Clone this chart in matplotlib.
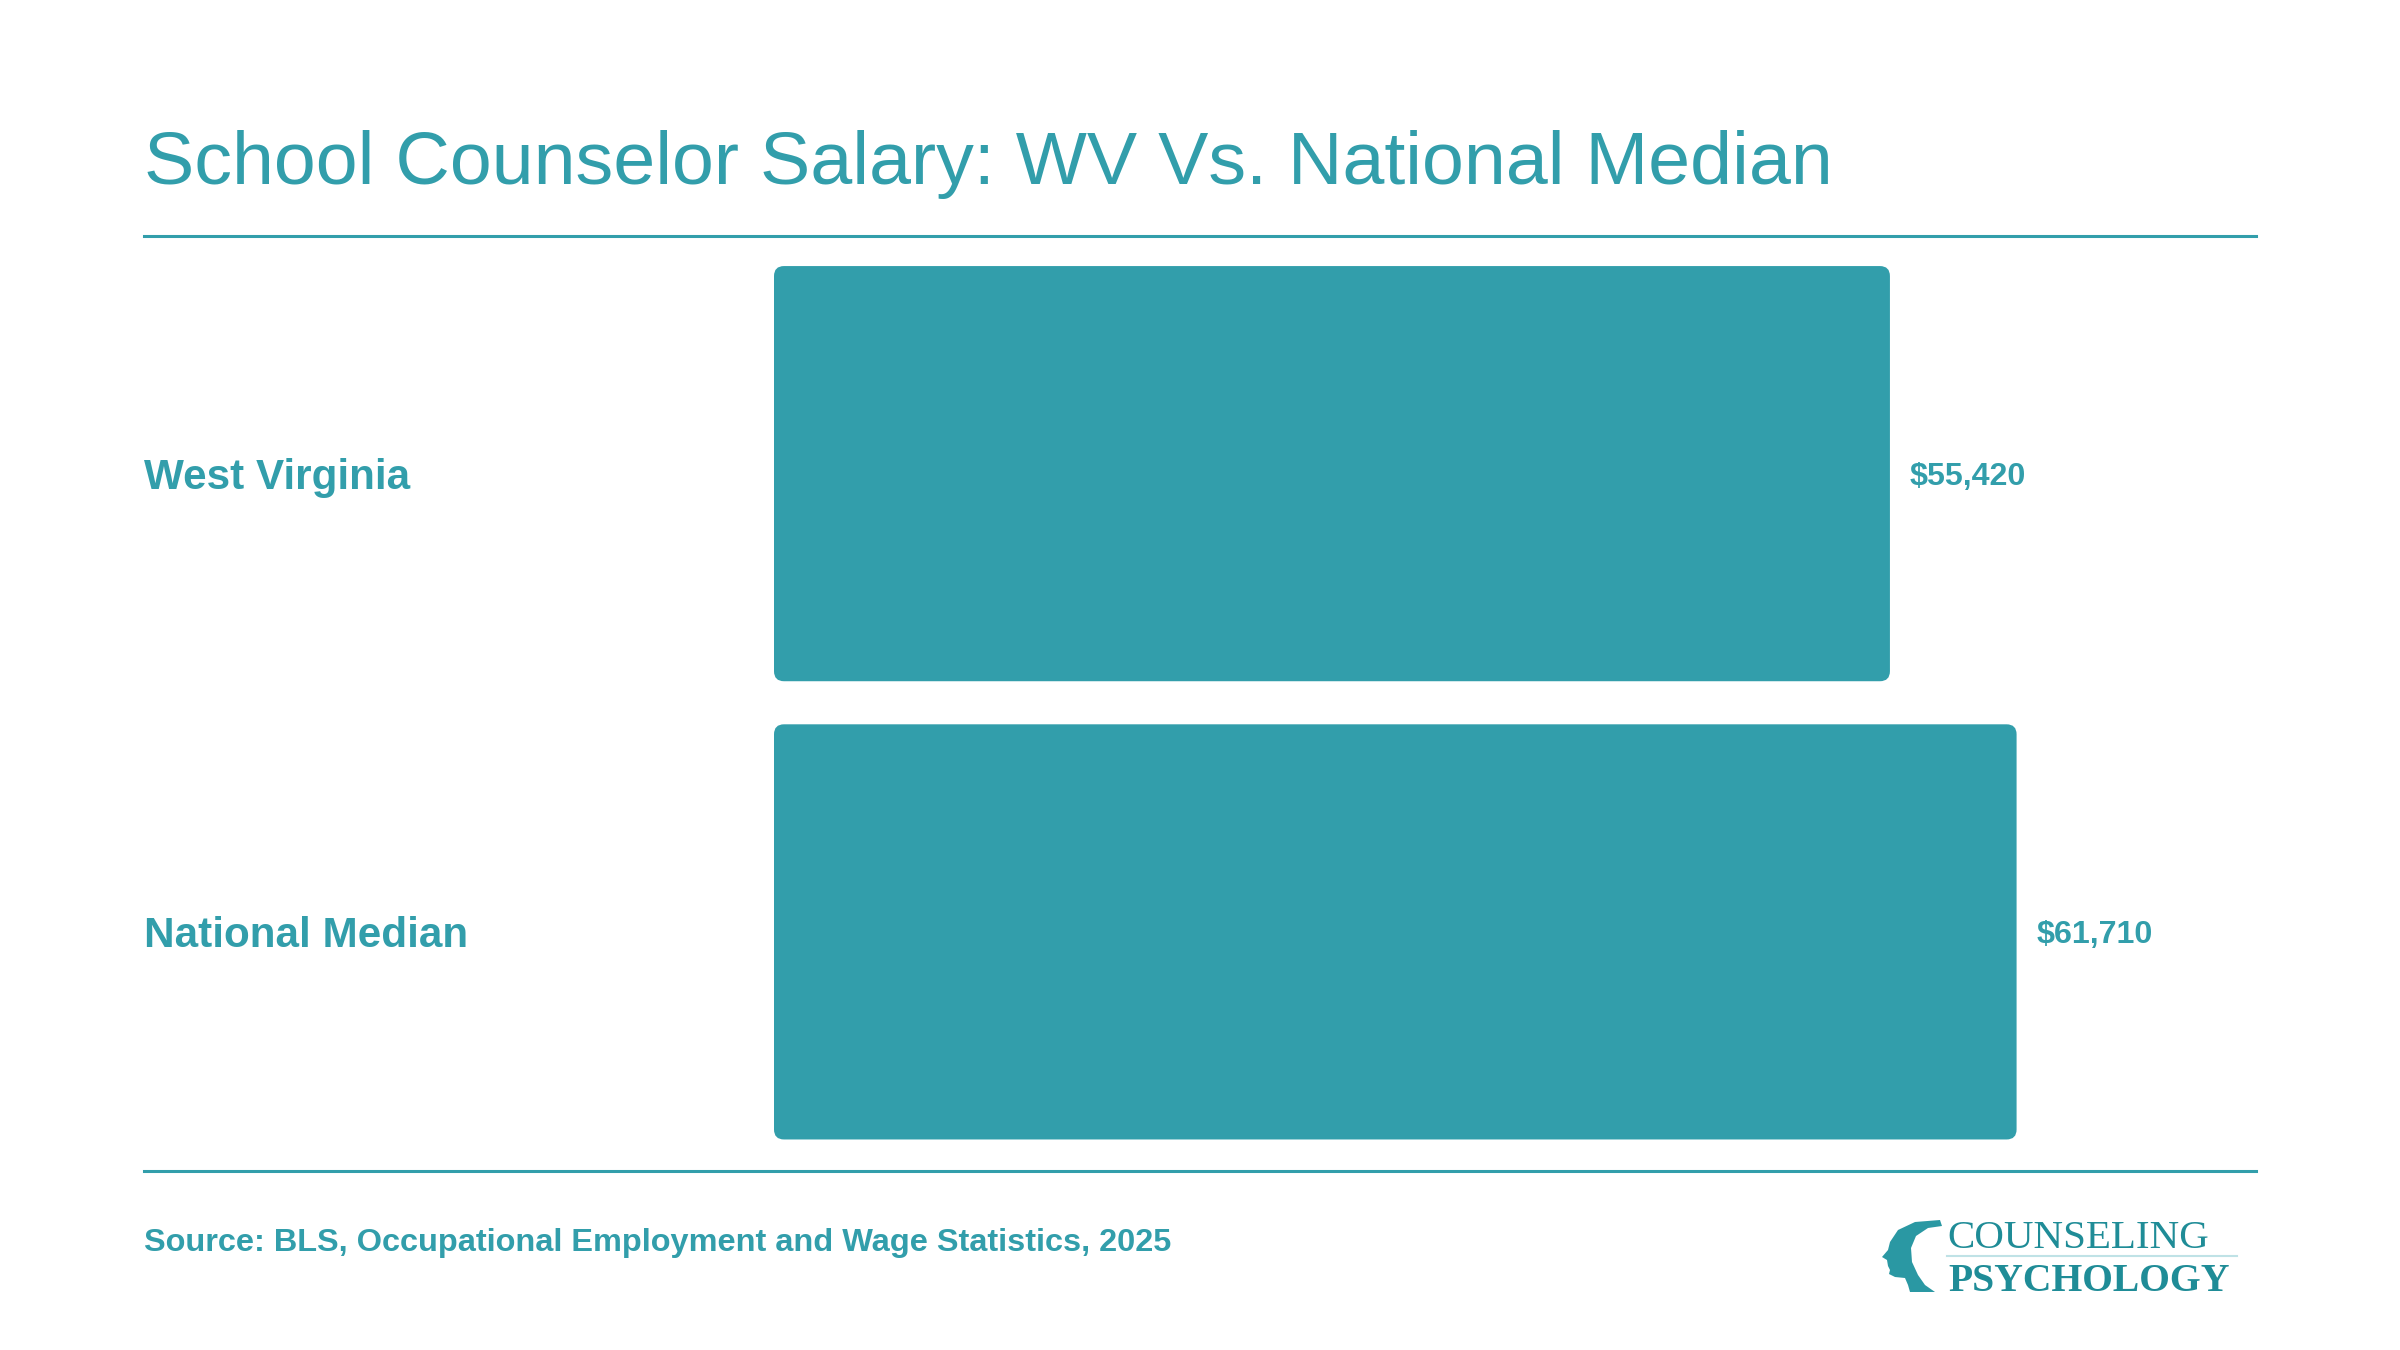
import matplotlib
matplotlib.use("Agg")
import matplotlib.pyplot as plt
from matplotlib.patches import FancyBboxPatch, Polygon
from matplotlib.lines import Line2D
import matplotlib.transforms as mtransforms

categories = ["West Virginia", "National Median"]
values = [55420, 61710]
value_labels = ["$55,420", "$61,710"]
title = "School Counselor Salary: WV Vs. National Median"
source = "Source: BLS, Occupational Employment and Wage Statistics, 2025"

TEAL = "#329EAB"
LOGO = "#1F8C97"
W, H = 2400, 1350
DPI = 100

plt.rcParams['font.family'] = ['Liberation Sans', 'DejaVu Sans']

fig = plt.figure(figsize=(W / DPI, H / DPI), dpi=DPI)
fig.patch.set_facecolor("white")

def fx(px):
    return px / W

def fy(py):
    return 1 - py / H

# axes for bars
ax_left, ax_right = 774, 2256
ax_top, ax_bot = 236, 1171
XMAX = 73600
YLO, YHI = 1.5218, -0.5186
ax = fig.add_axes([fx(ax_left), fy(ax_bot), fx(ax_right - ax_left), (ax_bot - ax_top) / H])
ax.set_xlim(0, XMAX)
ax.set_ylim(YLO, YHI)
ax.axis("off")

ypos = list(range(len(categories)))
bar_h = 0.906
bars = ax.barh(ypos, values, height=bar_h, color=TEAL)

# rounded corners
x_per_px = XMAX / (ax_right - ax_left)
y_per_px = (YLO - YHI) / (ax_bot - ax_top)
r_px = 10
for b in bars:
    b.set_visible(False)
    p = FancyBboxPatch((b.get_x(), b.get_y()), b.get_width(), b.get_height(),
                       boxstyle=f"round,pad=0,rounding_size={r_px * x_per_px}",
                       mutation_aspect=y_per_px / x_per_px,
                       facecolor=TEAL, edgecolor="none")
    ax.add_patch(p)

# category labels
blend = mtransforms.blended_transform_factory(fig.transFigure, ax.transData)
for y, c in zip(ypos, categories):
    ax.annotate(c, xy=(fx(144), y), xycoords=blend, xytext=(0, -15.5 * 0.72),
                textcoords="offset points", ha="left", va="baseline",
                fontsize=30.4, fontweight="bold", color=TEAL, annotation_clip=False)

# value labels
for y, v, lab in zip(ypos, values, value_labels):
    ax.annotate(lab, xy=(v, y), xycoords="data", xytext=(20 * 0.72, -11.5 * 0.72),
                textcoords="offset points", ha="left", va="baseline",
                fontsize=23.2, fontweight="bold", color=TEAL, annotation_clip=False)

# title
fig.text(fx(144), fy(184), title, ha="left", va="baseline", fontsize=54.3, color=TEAL)

# rules
for yy in (236, 1171):
    fig.add_artist(Line2D([fx(144), fx(2256)], [fy(yy), fy(yy)], color=TEAL, lw=2.2))

# source
fig.text(fx(144), fy(1251), source, ha="left", va="baseline", fontsize=23.4,
         fontweight="bold", color=TEAL)

# logo
head = [(1940, 1220), (1915, 1222), (1898, 1230), (1890, 1242), (1888, 1250), (1882, 1257),
        (1887, 1260), (1888, 1266), (1890, 1270), (1889, 1274), (1895, 1277), (1905, 1278),
        (1908, 1285), (1910, 1292), (1935, 1292), (1925, 1285), (1918, 1275), (1912, 1262),
        (1911, 1248), (1916, 1236), (1928, 1228), (1942, 1226)]
fig.add_artist(Polygon([(fx(x), fy(y)) for x, y in head], closed=True,
                       transform=fig.transFigure, facecolor="#2A98A3", edgecolor="none"))
fig.text(fx(1947), fy(1248), "COUNSELING", ha="left", va="baseline", fontsize=29.5,
         family=["Liberation Serif", "DejaVu Serif"], color=LOGO)
fig.add_artist(Line2D([fx(1947), fx(2237)], [fy(1256), fy(1256)], color="#BFE2E6", lw=1.5))
fig.text(fx(1948), fy(1291), "PSYCHOLOGY", ha="left", va="baseline", fontsize=28.5,
         family=["Liberation Serif", "DejaVu Serif"], fontweight="bold", color=LOGO)

fig.savefig("out.png", dpi=DPI, facecolor="white")
